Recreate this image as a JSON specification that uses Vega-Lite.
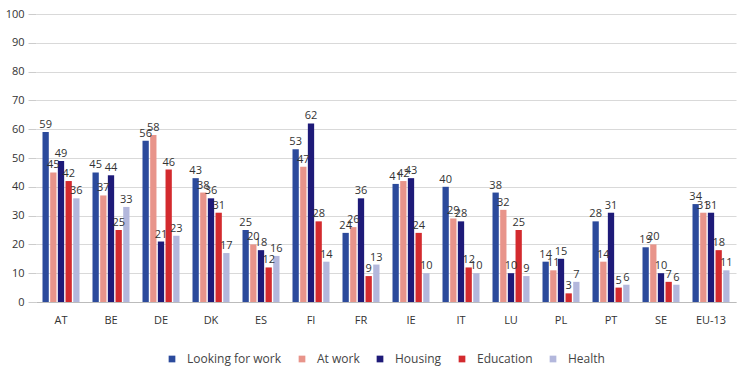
{
  "$schema": "https://vega.github.io/schema/vega-lite/v6.json",
  "width": 700,
  "height": 288,
  "autosize": {"type": "none"},
  "padding": {"left": 36, "top": 14, "right": 14, "bottom": 75},
  "background": "white",
  "config": {
    "view": {"stroke": null},
    "font": "Open Sans",
    "axis": {"labelFont": "Open Sans", "labelColor": "#333333", "labelFontSize": 11}
  },
  "data": {
    "values": [
      {"country": "AT", "cat": "Looking for work", "v": 59}, {"country": "AT", "cat": "At work", "v": 45}, {"country": "AT", "cat": "Housing", "v": 49}, {"country": "AT", "cat": "Education", "v": 42}, {"country": "AT", "cat": "Health", "v": 36},
      {"country": "BE", "cat": "Looking for work", "v": 45}, {"country": "BE", "cat": "At work", "v": 37}, {"country": "BE", "cat": "Housing", "v": 44}, {"country": "BE", "cat": "Education", "v": 25}, {"country": "BE", "cat": "Health", "v": 33},
      {"country": "DE", "cat": "Looking for work", "v": 56}, {"country": "DE", "cat": "At work", "v": 58}, {"country": "DE", "cat": "Housing", "v": 21}, {"country": "DE", "cat": "Education", "v": 46}, {"country": "DE", "cat": "Health", "v": 23},
      {"country": "DK", "cat": "Looking for work", "v": 43}, {"country": "DK", "cat": "At work", "v": 38}, {"country": "DK", "cat": "Housing", "v": 36}, {"country": "DK", "cat": "Education", "v": 31}, {"country": "DK", "cat": "Health", "v": 17},
      {"country": "ES", "cat": "Looking for work", "v": 25}, {"country": "ES", "cat": "At work", "v": 20}, {"country": "ES", "cat": "Housing", "v": 18}, {"country": "ES", "cat": "Education", "v": 12}, {"country": "ES", "cat": "Health", "v": 16},
      {"country": "FI", "cat": "Looking for work", "v": 53}, {"country": "FI", "cat": "At work", "v": 47}, {"country": "FI", "cat": "Housing", "v": 62}, {"country": "FI", "cat": "Education", "v": 28}, {"country": "FI", "cat": "Health", "v": 14},
      {"country": "FR", "cat": "Looking for work", "v": 24}, {"country": "FR", "cat": "At work", "v": 26}, {"country": "FR", "cat": "Housing", "v": 36}, {"country": "FR", "cat": "Education", "v": 9}, {"country": "FR", "cat": "Health", "v": 13},
      {"country": "IE", "cat": "Looking for work", "v": 41}, {"country": "IE", "cat": "At work", "v": 42}, {"country": "IE", "cat": "Housing", "v": 43}, {"country": "IE", "cat": "Education", "v": 24}, {"country": "IE", "cat": "Health", "v": 10},
      {"country": "IT", "cat": "Looking for work", "v": 40}, {"country": "IT", "cat": "At work", "v": 29}, {"country": "IT", "cat": "Housing", "v": 28}, {"country": "IT", "cat": "Education", "v": 12}, {"country": "IT", "cat": "Health", "v": 10},
      {"country": "LU", "cat": "Looking for work", "v": 38}, {"country": "LU", "cat": "At work", "v": 32}, {"country": "LU", "cat": "Housing", "v": 10}, {"country": "LU", "cat": "Education", "v": 25}, {"country": "LU", "cat": "Health", "v": 9},
      {"country": "PL", "cat": "Looking for work", "v": 14}, {"country": "PL", "cat": "At work", "v": 11}, {"country": "PL", "cat": "Housing", "v": 15}, {"country": "PL", "cat": "Education", "v": 3}, {"country": "PL", "cat": "Health", "v": 7},
      {"country": "PT", "cat": "Looking for work", "v": 28}, {"country": "PT", "cat": "At work", "v": 14}, {"country": "PT", "cat": "Housing", "v": 31}, {"country": "PT", "cat": "Education", "v": 5}, {"country": "PT", "cat": "Health", "v": 6},
      {"country": "SE", "cat": "Looking for work", "v": 19}, {"country": "SE", "cat": "At work", "v": 20}, {"country": "SE", "cat": "Housing", "v": 10}, {"country": "SE", "cat": "Education", "v": 7}, {"country": "SE", "cat": "Health", "v": 6},
      {"country": "EU-13", "cat": "Looking for work", "v": 34}, {"country": "EU-13", "cat": "At work", "v": 31}, {"country": "EU-13", "cat": "Housing", "v": 31}, {"country": "EU-13", "cat": "Education", "v": 18}, {"country": "EU-13", "cat": "Health", "v": 11}
    ]
  },
  "encoding": {
    "x": {
      "field": "country", "type": "nominal", "sort": null,
      "scale": {"paddingInner": 0.26, "paddingOuter": 0.13},
      "axis": {"title": null, "labelAngle": 0, "ticks": false, "domainColor": "#bbbbbb", "labelPadding": 12, "labelFontSize": 11}
    },
    "xOffset": {
      "field": "cat", "type": "nominal", "sort": ["Looking for work", "At work", "Housing", "Education", "Health"],
      "scale": {"paddingInner": 0.18}
    },
    "y": {
      "field": "v", "type": "quantitative",
      "scale": {"domain": [0, 100]},
      "axis": {"title": null, "values": [0,10,20,30,40,50,60,70,80,90,100], "labelOverlap": false, "domain": false, "ticks": true, "tickColor": "#cccccc", "tickSize": 8, "gridColor": "#d9d9d9", "labelPadding": 4, "labelFontSize": 11}
    }
  },
  "layer": [
    {
      "mark": {"type": "bar"},
      "encoding": {
        "color": {
          "field": "cat", "type": "nominal",
          "sort": ["Looking for work", "At work", "Housing", "Education", "Health"],
          "scale": {"domain": ["Looking for work", "At work", "Housing", "Education", "Health"], "range": ["#2b4a9c", "#e8948a", "#1e1a78", "#d32a2e", "#b3b7dc"]},
          "legend": {"title": null, "orient": "none", "legendX": 130, "legendY": 339, "direction": "horizontal", "symbolType": "square", "symbolSize": 45, "symbolStrokeWidth": 0, "labelFontSize": 12, "labelOffset": 9, "labelColor": "#444444", "columnPadding": 14, "labelFont": "Open Sans"}
        }
      }
    },
    {
      "mark": {"type": "text", "dy": -7, "fontSize": 11, "color": "#333333", "font": "Open Sans"},
      "encoding": {"text": {"field": "v", "type": "quantitative"}}
    }
  ]
}
